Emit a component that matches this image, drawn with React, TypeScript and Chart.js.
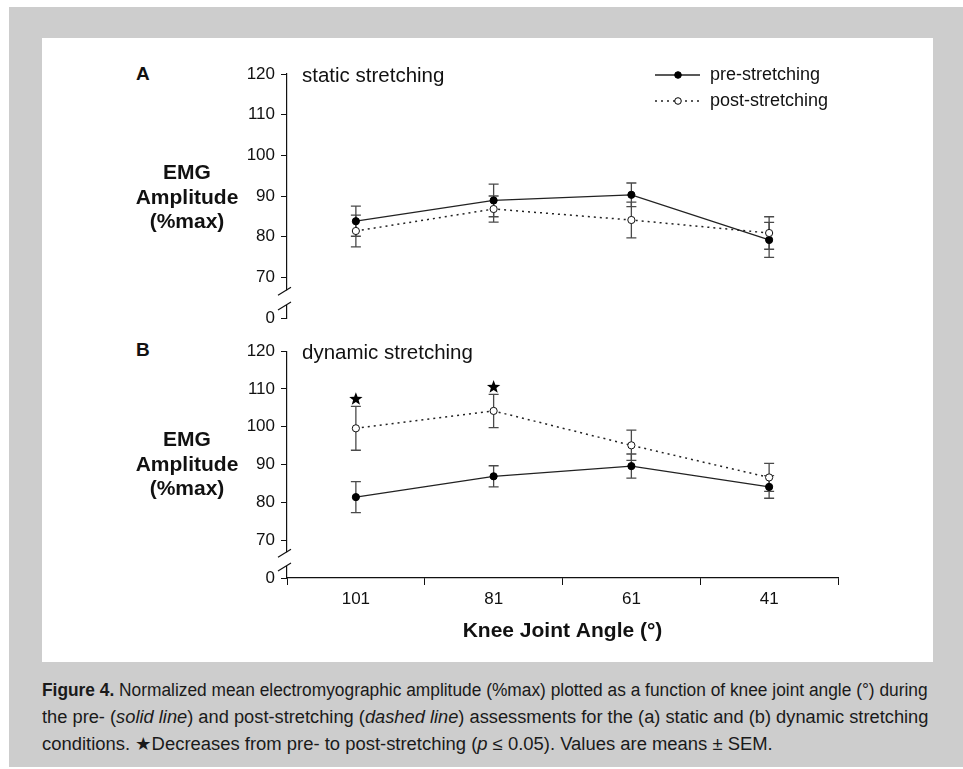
import React, { useEffect, useRef } from 'react';
import { Chart, registerables } from 'chart.js';

Chart.register(...registerables);

// ---------------- data ----------------
const angles = ['101', '81', '61', '41'];

const staticPre = [83.8, 88.9, 90.3, 79.2];
const staticPreSem = [3.7, 4.0, 2.9, 4.3];
const staticPost = [81.4, 86.8, 84.1, 80.9];
const staticPostSem = [3.9, 3.2, 4.4, 4.0];

const dynamicPre = [81.4, 86.9, 89.6, 84.1];
const dynamicPreSem = [4.1, 2.8, 3.2, 3.0];
const dynamicPost = [99.6, 104.2, 95.1, 86.6];
const dynamicPostSem = [5.8, 4.4, 4.0, 3.7];

const dynamicStarIndex = [0, 1];
const dynamicStarValue = [107.3, 110.5];

// broken axis: the value 60 on the scale is shown as "0"
const yTickValues = [60, 70, 80, 90, 100, 110, 120];
const yTickLabels = ['0', '70', '80', '90', '100', '110', '120'];

const legendLabels = ['pre-stretching', 'post-stretching'];

const FONT = '"Liberation Sans", Arial, Helvetica, sans-serif';
const INK = '#111111';

// ---------------- plugins ----------------
const errorBarsPlugin = {
  id: 'errorBars',
  beforeDatasetsDraw(chart: any) {
    const ctx = chart.ctx;
    const ys = chart.scales.y;
    chart.data.datasets.forEach((ds: any, i: number) => {
      if (!ds.sem) return;
      const meta = chart.getDatasetMeta(i);
      ctx.save();
      ctx.strokeStyle = '#4a4a4a';
      ctx.lineWidth = 1.3;
      meta.data.forEach((pt: any, j: number) => {
        const v = ds.data[j];
        const e = ds.sem[j];
        const yt = ys.getPixelForValue(v + e);
        const yb = ys.getPixelForValue(v - e);
        const x = pt.x;
        ctx.beginPath();
        ctx.moveTo(x, yt);
        ctx.lineTo(x, yb);
        ctx.moveTo(x - 5, yt);
        ctx.lineTo(x + 5, yt);
        ctx.moveTo(x - 5, yb);
        ctx.lineTo(x + 5, yb);
        ctx.stroke();
      });
      ctx.restore();
    });
  },
};

function drawStar(ctx: CanvasRenderingContext2D, cx: number, cy: number, ro: number, ri: number) {
  ctx.beginPath();
  for (let k = 0; k < 10; k++) {
    const r = k % 2 === 0 ? ro : ri;
    const a = -Math.PI / 2 + (k * Math.PI) / 5;
    const px = cx + r * Math.cos(a);
    const py = cy + r * Math.sin(a);
    if (k === 0) ctx.moveTo(px, py);
    else ctx.lineTo(px, py);
  }
  ctx.closePath();
  ctx.fill();
}

const annotPlugin = {
  id: 'annot',
  afterDraw(chart: any, _args: any, opts: any) {
    const ctx = chart.ctx;
    const ys = chart.scales.y;
    const xs = chart.scales.x;
    const area = chart.chartArea;
    const ax = area.left;
    ctx.save();

    // axis break marks
    const y70 = ys.getPixelForValue(70);
    const y60 = ys.getPixelForValue(60);
    const g1 = y70 + 0.32 * (y60 - y70);
    const g2 = y70 + 0.68 * (y60 - y70);
    ctx.fillStyle = '#ffffff';
    ctx.fillRect(ax - 2, g1, 4, g2 - g1);
    ctx.strokeStyle = INK;
    ctx.lineWidth = 1.2;
    ctx.beginPath();
    ctx.moveTo(ax - 9, g1 + 5);
    ctx.lineTo(ax + 4, g1 - 3);
    ctx.moveTo(ax - 9, g2 + 5);
    ctx.lineTo(ax + 4, g2 - 3);
    ctx.stroke();

    // panel title
    ctx.fillStyle = INK;
    ctx.font = `20.5px ${FONT}`;
    ctx.textBaseline = 'middle';
    ctx.textAlign = 'left';
    ctx.fillText(opts.title, ax + 15, area.top + 2);

    // stars
    if (opts.starIndex) {
      opts.starIndex.forEach((idx: number, k: number) => {
        const x = xs.getPixelForValue(idx);
        const y = ys.getPixelForValue(opts.starValue[k]);
        ctx.fillStyle = '#000';
        drawStar(ctx, x, y, 7, 2.9);
      });
    }

    // legend
    if (opts.legend) {
      const lx0 = area.left + 368;
      const lx1 = lx0 + 45;
      const cx = lx0 + 23;
      const rows = [area.top + 1, area.top + 27];
      ctx.font = `18px ${FONT}`;
      rows.forEach((ry, r) => {
        ctx.strokeStyle = '#222';
        ctx.lineWidth = r === 0 ? 1.3 : 1.5;
        ctx.setLineDash(r === 0 ? [] : [2, 4]);
        ctx.beginPath();
        ctx.moveTo(lx0, ry);
        ctx.lineTo(lx1, ry);
        ctx.stroke();
        ctx.setLineDash([]);
        ctx.beginPath();
        ctx.arc(cx, ry, 3.3, 0, Math.PI * 2);
        ctx.fillStyle = r === 0 ? '#000' : '#fff';
        ctx.fill();
        ctx.lineWidth = 1;
        ctx.strokeStyle = '#000';
        ctx.stroke();
        ctx.fillStyle = INK;
        ctx.fillText(legendLabels[r], lx1 + 10, ry);
      });
    }
    ctx.restore();
  },
};

// ---------------- chart factory ----------------
function makeConfig(pre: number[], preSem: number[], post: number[], postSem: number[], opts: any) {
  return {
    type: 'line',
    data: {
      labels: angles,
      datasets: [
        {
          label: legendLabels[0],
          data: pre,
          sem: preSem,
          borderColor: '#222',
          borderWidth: 1.3,
          pointRadius: 3.6,
          pointBackgroundColor: '#000',
          pointBorderColor: '#000',
          pointBorderWidth: 1,
          fill: false,
          tension: 0,
          order: 2,
        },
        {
          label: legendLabels[1],
          data: post,
          sem: postSem,
          borderColor: '#222',
          borderWidth: 1.5,
          borderDash: [2, 4],
          pointRadius: 3.6,
          pointBackgroundColor: '#fff',
          pointBorderColor: '#111',
          pointBorderWidth: 1,
          fill: false,
          tension: 0,
          order: 1,
        },
      ],
    },
    options: {
      animation: false,
      responsive: false,
      maintainAspectRatio: false,
      events: [],
      layout: { padding: opts.padding },
      plugins: {
        legend: { display: false },
        tooltip: { enabled: false },
        annot: opts.annot,
      },
      scales: {
        x: {
          type: 'category',
          display: opts.showX,
          offset: true,
          grid: { offset: true, drawOnChartArea: false, drawTicks: true, tickLength: 7, color: INK, lineWidth: 1 },
          border: { display: true, color: INK, width: 1.2 },
          ticks: { font: { family: FONT, size: 17 }, color: INK, padding: 4, maxRotation: 0 },
          title: {
            display: opts.showX,
            text: 'Knee Joint Angle (°)',
            font: { family: FONT, size: 21, weight: 'bold' },
            color: INK,
            padding: { top: 6, bottom: 6 },
          },
          afterFit: (s: any) => {
            if (opts.showX) s.height = 72;
          },
        },
        y: {
          type: 'linear',
          min: 60,
          max: 120,
          afterBuildTicks: (s: any) => {
            s.ticks = yTickValues.map((v) => ({ value: v }));
          },
          afterFit: (s: any) => {
            s.width = 87;
          },
          ticks: {
            font: { family: FONT, size: 17 },
            color: INK,
            padding: 6,
            callback: (v: number) => {
              const i = yTickValues.indexOf(v);
              return i >= 0 ? yTickLabels[i] : '';
            },
          },
          grid: { drawOnChartArea: false, drawTicks: true, tickLength: 6, color: INK, lineWidth: 1 },
          border: { display: true, color: INK, width: 1.2 },
        },
      },
    },
    plugins: [errorBarsPlugin, annotPlugin],
  };
}

function ChartCanvas(props: { config: any; style: React.CSSProperties; width: number; height: number }) {
  const ref = useRef<HTMLCanvasElement | null>(null);
  useEffect(() => {
    if (!ref.current) return;
    const chart = new Chart(ref.current, props.config);
    return () => chart.destroy();
  }, []);
  return <canvas ref={ref} width={props.width} height={props.height} style={{ ...props.style, width: props.width, height: props.height }} />;
}

// a caption line stretched horizontally to a target width
function FitLine(props: { top: number; target: number; children: React.ReactNode }) {
  const ref = useRef<HTMLDivElement | null>(null);
  useEffect(() => {
    const el = ref.current;
    if (!el) return;
    el.style.transform = 'none';
    const w = el.scrollWidth;
    if (w > 0) el.style.transform = `scaleX(${props.target / w})`;
  }, []);
  return (
    <div
      ref={ref}
      style={{
        position: 'absolute',
        left: 42,
        top: props.top,
        fontFamily: FONT,
        fontSize: 18,
        lineHeight: '22px',
        color: '#1a1a1a',
        whiteSpace: 'nowrap',
        transformOrigin: 'left center',
        display: 'inline-block',
      }}
    >
      {props.children}
    </div>
  );
}

const abs = (l: number, t: number): React.CSSProperties => ({ position: 'absolute', left: l, top: t });

export default function App() {
  const topConfig = makeConfig(staticPre, staticPreSem, staticPost, staticPostSem, {
    showX: false,
    padding: { top: 24, right: 62, bottom: 17, left: 0 },
    annot: { title: 'static stretching', legend: true },
  });
  const bottomConfig = makeConfig(dynamicPre, dynamicPreSem, dynamicPost, dynamicPostSem, {
    showX: true,
    padding: { top: 15, right: 62, bottom: 0, left: 0 },
    annot: { title: 'dynamic stretching', legend: false, starIndex: dynamicStarIndex, starValue: dynamicStarValue },
  });

  const labelStyle: React.CSSProperties = {
    position: 'absolute',
    fontFamily: FONT,
    fontWeight: 'bold',
    fontSize: 21,
    lineHeight: '24.5px',
    textAlign: 'center',
    color: INK,
    width: 140,
  };

  return (
    <div style={{ position: 'absolute', left: 0, top: 0, width: 963, height: 769, background: '#ffffff', overflow: 'hidden' }}>
      <div style={{ ...abs(9, 7), width: 954, height: 760, background: '#cdcdcd' }} />
      <div style={{ ...abs(42, 38), width: 891, height: 624, background: '#ffffff' }} />

      <ChartCanvas config={topConfig} width={700} height={285} style={abs(200, 50)} />
      <ChartCanvas config={bottomConfig} width={700} height={315} style={abs(200, 335)} />

      <div style={{ ...abs(136, 62), fontFamily: FONT, fontWeight: 'bold', fontSize: 19, lineHeight: '24px', color: INK }}>A</div>
      <div style={{ ...abs(136, 338), fontFamily: FONT, fontWeight: 'bold', fontSize: 19, lineHeight: '24px', color: INK }}>B</div>

      <div style={{ ...labelStyle, left: 117, top: 160 }}>
        EMG<br />Amplitude<br />(%max)
      </div>
      <div style={{ ...labelStyle, left: 117, top: 427 }}>
        EMG<br />Amplitude<br />(%max)
      </div>

      <FitLine top={679} target={886}>
        <b>Figure 4.</b> Normalized mean electromyographic amplitude (%max) plotted as a function of knee joint angle (°) during
      </FitLine>
      <FitLine top={706} target={886}>
        the pre- (<i>solid line</i>) and post-stretching (<i>dashed line</i>) assessments for the (a) static and (b) dynamic stretching
      </FitLine>
      <FitLine top={733} target={731}>
        conditions. ★Decreases from pre- to post-stretching (<i>p</i> ≤ 0.05). Values are means ± SEM.
      </FitLine>
    </div>
  );
}
